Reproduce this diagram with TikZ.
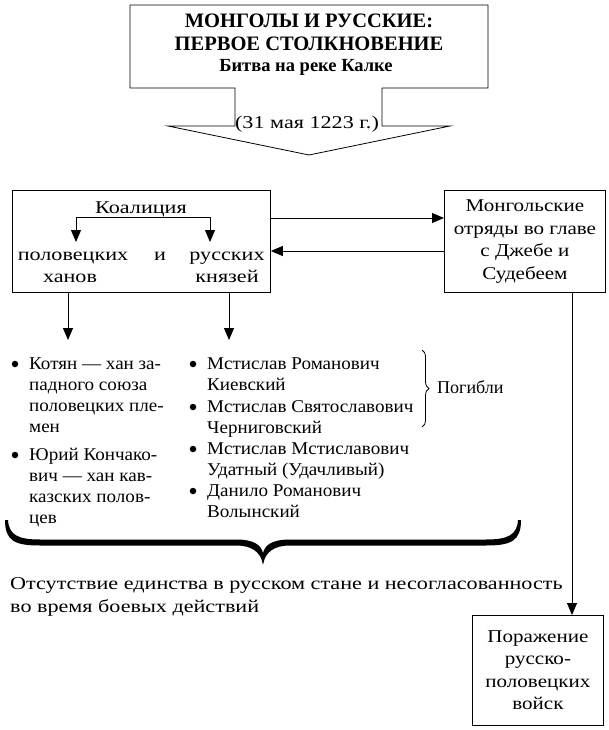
\documentclass[tikz,border=0pt]{standalone}
\usepackage{fontspec}
\setmainfont{Liberation Serif}
\newfontfamily\wideA[FakeStretch=1.23]{Liberation Serif}
\newfontfamily\wideB[FakeStretch=1.17]{Liberation Serif}
\newfontfamily\wideC[FakeStretch=1.06]{Liberation Serif}
\usetikzlibrary{arrows.meta,calc,decorations.pathreplacing}
\begin{document}
\begin{tikzpicture}[x=1pt,y=-1pt,
  every node/.style={inner sep=0pt, font=\fontsize{18}{21}\selectfont},
  box/.style={draw, line width=0.8pt},
  ln/.style={line width=0.8pt},
  arr/.style={line width=0.8pt, -{Triangle[length=12pt,width=10pt]}},
  item/.style={align=left, anchor=north west, font=\fontsize{18}{21}\selectfont\wideC},
  wa/.style={font=\fontsize{18}{22}\selectfont\wideA},
  wb/.style={font=\fontsize{18}{22.5}\selectfont\wideB},
  dot/.style={circle, fill, minimum size=6.5pt, inner sep=0pt}]
\useasboundingbox (0,0) rectangle (609,730);

% title arrow shape
\draw[ln] (130,5) -- (488,5) -- (488,88) -- (382,88) -- (382,126) -- (450,126)
  -- (309,155) -- (168,126) -- (235,126) -- (235,88) -- (130,88) -- cycle;
\node[align=center, anchor=north, font=\fontsize{20.5}{23}\selectfont\bfseries] (title) at (309,10.9)
  {\strut МОНГОЛЫ И РУССКИЕ:\\ПЕРВОЕ СТОЛКНОВЕНИЕ};
\node[anchor=base, font=\fontsize{18.5}{21}\selectfont\bfseries] (sub) at (306,72) {Битва на реке Калке};
\node[anchor=base, wa] (date) at (307,129) {(31 мая 1223 г.)};

% coalition box
\node[box, minimum width=258pt, minimum height=102pt, anchor=north west] (coal) at (12,190) {};
\node[anchor=base, wa] (koal) at (141,213) {Коалиция};
\node[anchor=base, wa] (pol) at (73,260) {половецких};
\node[anchor=base, wa] (ii) at (160,260) {и};
\node[anchor=base, wa] (rus) at (227,260) {русских};
\node[anchor=base, wa] (han) at (70,282) {ханов};
\node[anchor=base, wa] (kn) at (227,282) {князей};
\coordinate (fl) at (76,217);
\coordinate (fr) at (210,217);
\draw[ln] (fl) -- (fr);
\draw[arr] (fl) -- (fl |- 0,242);
\draw[arr] (fr) -- (fr |- 0,242);

% mongol box
\node[box, minimum width=161pt, minimum height=102pt, anchor=north west, align=center, wb] (mong) at (444,190)
  {Монгольские\\отряды во главе\\с Джебе и\\Судебеем};

\draw[arr] (coal.east |- 0,218) -- (mong.west |- 0,218);
\draw[arr] (mong.west |- 0,251) -- (coal.east |- 0,251);

% defeat box
\node[box, minimum width=131pt, minimum height=110pt, anchor=north west, align=center, wb] (por) at (472,615)
  {Поражение\\русско-\\половецких\\войск};
\draw[arr] (mong.south -| 572,0) -- (por.north -| 572,0);

% arrows to lists
\coordinate (la) at (68,340);
\coordinate (ra) at (229,340);
\draw[arr] (coal.south -| la) -- (la);
\draw[arr] (coal.south -| ra) -- (ra);

% left list
\node[dot] (d1) at (15,364) {};
\node[item] (k1) at (29,354.3) {\strut Котян — хан за-\\падного союза\\половецких пле-\\мен};
\node[dot] (d2) at (15,455) {};
\node[item] (k2) at (29,445.3) {\strut Юрий Кончако-\\вич — хан кав-\\казских полов-\\цев};

% right list
\node[dot] (r1d) at (193,364) {};
\node[item] (r1) at (207,354.3) {\strut Мстислав Романович\\Киевский};
\node[dot] (r2d) at (193,407) {};
\node[item] (r2) at (207,397.3) {\strut Мстислав Святославович\\Черниговский};
\node[dot] (r3d) at (193,449) {};
\node[item] (r3) at (207,439.3) {\strut Мстислав Мстиславович\\Удатный (Удачливый)};
\node[dot] (r4d) at (193,491) {};
\node[item] (r4) at (207,481.3) {\strut Данило Романович\\Волынский};

% small brace
\draw[ln, decorate, decoration={brace, amplitude=7pt}] (422,350) -- (422,427);
\node[anchor=base west] (pog) at (437,393) {Погибли};

% big brace
\fill (5,520) .. controls (5,541) and (15,545.5) .. (40,545.5) -- (236,545.5)
  .. controls (252,545.5) and (261,552) .. (263,565)
  .. controls (265,552) and (274,545.5) .. (290,545.5) -- (486,545.5)
  .. controls (511,545.5) and (521,541) .. (521,520)
  -- (518,520) .. controls (517,535) and (508,539.5) .. (486,539.5) -- (290,539.5)
  .. controls (272,539.5) and (265,545) .. (263,553)
  .. controls (261,545) and (254,539.5) .. (236,539.5) -- (40,539.5)
  .. controls (18,539.5) and (9,535) .. (8,520) -- cycle;

\node[item, font=\fontsize{18}{23}\selectfont\wideA] (conc) at (10,573.3) {\strut Отсутствие единства в русском стане и несогласованность\\во время боевых действий};
\end{tikzpicture}
\end{document}
